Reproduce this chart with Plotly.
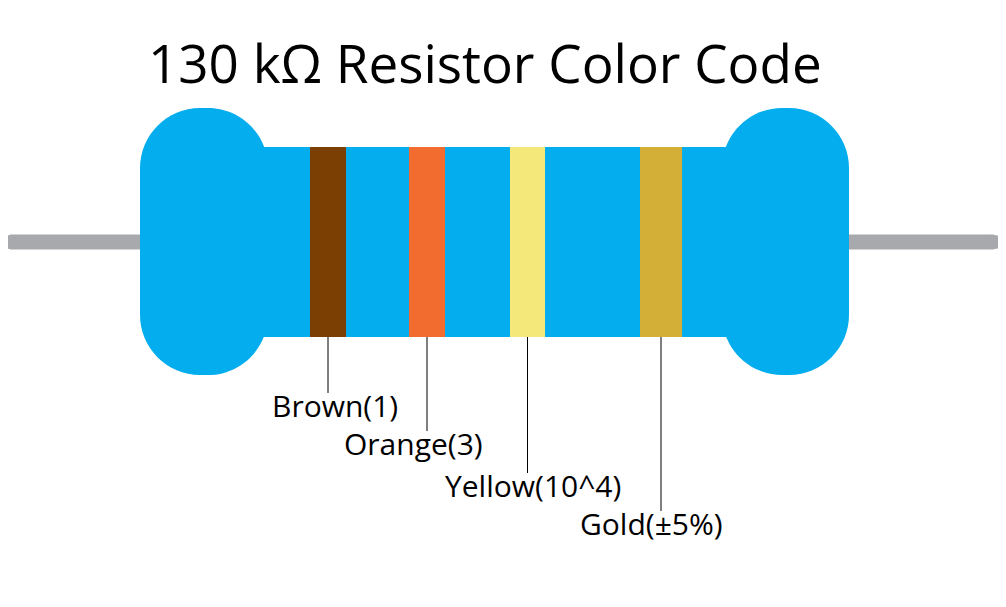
import plotly.graph_objects as go

W, H = 1006, 607

TITLE = "130 kΩ Resistor Color Code"
BAND_NAMES = ["Brown(1)", "Orange(3)", "Yellow(10^4)", "Gold(±5%)"]
BAND_COLORS = ["#7B3F03", "#F26C30", "#F4E87B", "#D4AF38"]
BAND_LEFT = [310, 409, 510, 640]
BAND_RIGHT = [346, 445, 545, 682]
LABEL_X = [335, 413, 533, 651]
LABEL_Y = [405, 443, 485, 523]

BODY = "#03ADEE"
LEAD = "#A7A9AC"


def rounded_rect(x0, y0, x1, y1, r):
    k = 0.55 * r
    return (
        f"M {x0+r},{y0} L {x1-r},{y0} C {x1-r+k},{y0} {x1},{y0+r-k} {x1},{y0+r} "
        f"L {x1},{y1-r} C {x1},{y1-r+k} {x1-r+k},{y1} {x1-r},{y1} "
        f"L {x0+r},{y1} C {x0+r-k},{y1} {x0},{y1-r+k} {x0},{y1-r} "
        f"L {x0},{y0+r} C {x0},{y0+r-k} {x0+r-k},{y0} {x0+r},{y0} Z"
    )


fig = go.Figure()
shapes = []

# lead wire
shapes.append(dict(type="line", x0=10, x1=994, y0=242, y1=242,
                   line=dict(color=LEAD, width=15)))
shapes.append(dict(type="circle", x0=3, x1=17, y0=235, y1=249,
                   fillcolor=LEAD, line_width=0))
shapes.append(dict(type="circle", x0=988, x1=1002, y0=235, y1=249,
                   fillcolor=LEAD, line_width=0))

# body and caps
shapes.append(dict(type="rect", x0=250, x1=740, y0=147, y1=337,
                   fillcolor=BODY, line_width=0))
shapes.append(dict(type="path", path=rounded_rect(140, 108, 268, 375, 60),
                   fillcolor=BODY, line_width=0))
shapes.append(dict(type="path", path=rounded_rect(722, 108, 849, 375, 60),
                   fillcolor=BODY, line_width=0))

# bands and leader lines
for name, col, xl, xr, lx, ly in zip(BAND_NAMES, BAND_COLORS, BAND_LEFT,
                                       BAND_RIGHT, LABEL_X, LABEL_Y):
    shapes.append(dict(type="rect", x0=xl, x1=xr, y0=147, y1=337,
                       fillcolor=col, line_width=0))
    xc = (xl + xr) / 2
    shapes.append(dict(type="line", x0=xc, x1=xc, y0=337, y1=ly - 12,
                       line=dict(color="black", width=1)))
    fig.add_annotation(x=lx, y=ly, text=name, showarrow=False,
                       font=dict(size=30, color="black"))

fig.add_annotation(x=485, y=62, text=TITLE, showarrow=False,
                   font=dict(size=53, color="black"))

fig.update_layout(
    width=W, height=H, shapes=shapes,
    margin=dict(l=0, r=0, t=0, b=0),
    paper_bgcolor="white", plot_bgcolor="white",
    font=dict(family="Open Sans"),
    showlegend=False,
)
# the page body adds an 8px offset, so shift the view to compensate
fig.update_xaxes(range=[8, W + 8], visible=False, fixedrange=True)
fig.update_yaxes(range=[H + 8, 8], visible=False, fixedrange=True)

fig.write_html("out.html")
